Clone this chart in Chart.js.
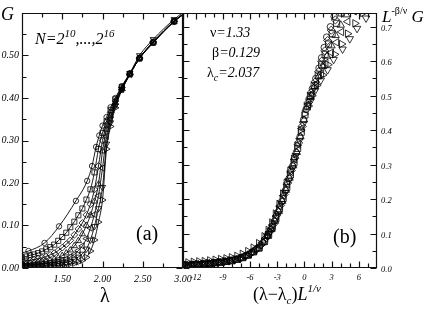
<!DOCTYPE html>
<html>
<head>
<meta charset="utf-8">
<script src="https://cdn.jsdelivr.net/npm/chart.js@4.4.0/dist/chart.umd.min.js"></script>
<style>
body { margin: 0; background: #fff; }
#wrap { position: relative; width: 425px; height: 311px; overflow: hidden; }
canvas { position: absolute; left: 0; top: 0; }
.t { position: absolute; white-space: nowrap; font-family: 'Liberation Serif', 'DejaVu Serif', serif; line-height: 1; color: #000; }
.t i { font-style: italic; }
.sup, .sub { position: relative; }
</style>
</head>
<body>
<div id="wrap">
  <canvas id="left" width="425" height="311"></canvas>
  <canvas id="right" width="425" height="311"></canvas>

  <div class="t" style="left:1px;top:5px;font-size:18px"><i>G</i></div>
  <div class="t" style="left:35px;top:31px;font-size:16px"><i>N=2<span class="sup" style="font-size:11px;top:-7px">10</span>,...,2<span class="sup" style="font-size:11px;top:-7px">16</span></i></div>
  <div class="t" style="left:136px;top:223px;font-size:20px">(a)</div>
  <div class="t" style="left:100px;top:285px;font-size:20px">λ</div>

  <div class="t" style="left:210px;top:26px;font-size:14px">ν<i>=1.33</i></div>
  <div class="t" style="left:212px;top:46px;font-size:14px">β<i>=0.129</i></div>
  <div class="t" style="left:207px;top:66px;font-size:14px">λ<i class="sub" style="font-size:10px;top:4px">c</i><i>=2.037</i></div>
  <div class="t" style="left:333px;top:226px;font-size:20px">(b)</div>
  <div class="t" style="left:253px;top:285px;font-size:18px">(λ−λ<i class="sub" style="font-size:11px;top:4px">c</i>)<i>L</i><i class="sup" style="font-size:11px;top:-8px">1/ν</i></div>
  <div class="t" style="left:382px;top:8px;font-size:17px"><i>L</i><span class="sup" style="font-size:10px;top:-8px">-β/ν</span> <i>G</i></div>
</div>

<script>
// left panel: G(lambda), one curve per system size N = 2^10 ... 2^16
const lamSparse = [0.9, 1.08, 1.28, 1.46, 1.67, 1.81, 1.87, 1.92, 1.96, 2.00, 2.05, 2.10, 2.16, 2.24, 2.34, 2.46, 2.63, 2.89, 3.1];
const lamDense = [0.9, 1.0, 1.05, 1.1, 1.15, 1.2, 1.25, 1.3, 1.35, 1.4, 1.45, 1.5, 1.55, 1.6, 1.65, 1.7, 1.75, 1.8, 1.85, 1.9, 1.95, 2.0, 2.05, 2.1, 2.16, 2.24, 2.34, 2.46, 2.63, 2.89, 3.1];
const g10 = [0.031, 0.040, 0.059, 0.098, 0.158, 0.205, 0.240, 0.285, 0.312, 0.335, 0.355, 0.378, 0.400, 0.428, 0.458, 0.493, 0.530, 0.580, 0.610];
const g11 = [0.021, 0.025, 0.027, 0.030, 0.032, 0.035, 0.039, 0.044, 0.049, 0.055, 0.064, 0.073, 0.083, 0.096, 0.109, 0.124, 0.140, 0.161, 0.185, 0.225, 0.280, 0.318, 0.345, 0.372, 0.397, 0.426, 0.457, 0.493, 0.530, 0.580, 0.610];
const g12 = [0.012, 0.015, 0.017, 0.018, 0.020, 0.022, 0.024, 0.027, 0.031, 0.035, 0.041, 0.048, 0.056, 0.065, 0.078, 0.092, 0.106, 0.125, 0.150, 0.185, 0.240, 0.300, 0.337, 0.366, 0.393, 0.424, 0.457, 0.494, 0.531, 0.580, 0.610];
const g13 = [0.008, 0.010, 0.010, 0.011, 0.012, 0.013, 0.015, 0.016, 0.018, 0.021, 0.024, 0.029, 0.035, 0.042, 0.052, 0.064, 0.080, 0.100, 0.124, 0.157, 0.197, 0.275, 0.326, 0.358, 0.389, 0.422, 0.456, 0.494, 0.531, 0.580, 0.610];
const g14 = [0.005, 0.007, 0.007, 0.007, 0.008, 0.008, 0.009, 0.010, 0.012, 0.013, 0.015, 0.018, 0.021, 0.026, 0.032, 0.041, 0.052, 0.069, 0.094, 0.126, 0.170, 0.235, 0.310, 0.350, 0.385, 0.420, 0.455, 0.494, 0.532, 0.581, 0.611];
const g15 = [0.003, 0.005, 0.005, 0.005, 0.006, 0.006, 0.007, 0.007, 0.008, 0.009, 0.010, 0.012, 0.013, 0.016, 0.020, 0.026, 0.033, 0.045, 0.066, 0.098, 0.140, 0.190, 0.292, 0.342, 0.382, 0.421, 0.458, 0.500, 0.538, 0.585, 0.615];
const g16 = [0.002, 0.003, 0.003, 0.003, 0.004, 0.004, 0.004, 0.005, 0.005, 0.006, 0.006, 0.007, 0.008, 0.010, 0.011, 0.014, 0.018, 0.025, 0.040, 0.066, 0.108, 0.160, 0.280, 0.333, 0.377, 0.418, 0.455, 0.494, 0.532, 0.581, 0.610];

// right panel: (lambda - lambda_c) L^(1/nu)  vs  L^(-beta/nu) G
const sx10 = [-13.6, -13.0, -12.4, -11.8, -11.2, -10.6, -10.0, -9.4, -8.8, -8.2, -7.6, -7.0, -6.4, -5.8, -5.2, -4.6,
    -4.1, -3.7, -3.3, -2.9, -2.5, -2.1, -1.7, -1.3, -0.9, -0.5, -0.1,
    0.17, 0.50, 0.87, 1.25, 1.60, 1.89, 2.18, 2.45, 2.86, 3.27, 3.74];
const sy10 = [0.007, 0.008, 0.009, 0.010, 0.012, 0.013, 0.015, 0.017, 0.019, 0.021, 0.025, 0.029, 0.036, 0.045, 0.056, 0.073,
    0.093, 0.112, 0.136, 0.163, 0.193, 0.225, 0.260, 0.296, 0.335, 0.380, 0.430,
    0.46, 0.49, 0.52, 0.55, 0.58, 0.61, 0.64, 0.67, 0.70, 0.73, 0.76];
const sx11 = [-13.4, -12.8, -12.2, -11.6, -11.0, -10.4, -9.8, -9.2, -8.6, -8.0, -7.4, -6.8, -6.2, -5.6, -5.0, -4.4,
    -3.95, -3.55, -3.15, -2.75, -2.35, -1.95, -1.55, -1.15, -0.75, -0.35, 0.05,
    0.31, 0.66, 1.07, 1.52, 1.89, 2.28, 2.66, 3.05, 3.55, 4.06];
const sy11 = [0.006, 0.008, 0.009, 0.010, 0.011, 0.013, 0.015, 0.016, 0.019, 0.021, 0.025, 0.030, 0.037, 0.047, 0.058, 0.078,
    0.097, 0.118, 0.143, 0.171, 0.202, 0.234, 0.270, 0.306, 0.347, 0.394, 0.444,
    0.47, 0.50, 0.53, 0.56, 0.59, 0.62, 0.65, 0.68, 0.71, 0.74];
const sx12 = [-13.2, -12.6, -12.0, -11.4, -10.8, -10.2, -9.6, -9.0, -8.4, -7.8, -7.2, -6.6, -6.0, -5.4, -4.8, -4.2,
    -3.85, -3.45, -3.05, -2.65, -2.25, -1.85, -1.45, -1.05, -0.65, -0.25,
    0.41, 0.76, 1.16, 1.57, 1.89, 2.24, 2.55, 2.95, 3.41, 3.89];
const sy12 = [0.008, 0.009, 0.010, 0.011, 0.013, 0.014, 0.016, 0.018, 0.021, 0.024, 0.028, 0.034, 0.041, 0.053, 0.067, 0.088,
    0.105, 0.126, 0.153, 0.182, 0.213, 0.247, 0.283, 0.319, 0.363, 0.411,
    0.48, 0.51, 0.54, 0.57, 0.60, 0.63, 0.66, 0.69, 0.72, 0.75];
const sx13 = [-13.5, -12.9, -12.3, -11.7, -11.1, -10.5, -9.9, -9.3, -8.7, -8.1, -7.5, -6.9, -6.3, -5.7, -5.1, -4.5,
    -4.05, -3.65, -3.25, -2.85, -2.45, -2.05, -1.65, -1.25, -0.85, -0.45, -0.05,
    0.28, 0.64, 1.08, 1.56, 2.01, 2.48, 2.98, 3.43, 4.0, 4.6];
const sy13 = [0.006, 0.007, 0.009, 0.010, 0.011, 0.013, 0.014, 0.016, 0.018, 0.021, 0.024, 0.029, 0.036, 0.045, 0.056, 0.074,
    0.092, 0.112, 0.136, 0.164, 0.194, 0.226, 0.261, 0.297, 0.336, 0.381, 0.430,
    0.465, 0.495, 0.525, 0.555, 0.585, 0.615, 0.645, 0.675, 0.705, 0.735];
const sx14 = [-13.3, -12.7, -12.1, -11.5, -10.9, -10.3, -9.7, -9.1, -8.5, -7.9, -7.3, -6.7, -6.1, -5.5, -4.9, -4.3,
    -3.9, -3.5, -3.1, -2.7, -2.3, -1.9, -1.5, -1.1, -0.7, -0.3,
    0.44, 0.83, 1.31, 1.88, 2.35, 2.96, 3.53, 4.08, 4.77, 5.48];
const sy14 = [0.008, 0.009, 0.011, 0.012, 0.013, 0.015, 0.017, 0.019, 0.021, 0.024, 0.028, 0.034, 0.041, 0.052, 0.065, 0.086,
    0.103, 0.124, 0.150, 0.179, 0.210, 0.243, 0.279, 0.315, 0.358, 0.405,
    0.475, 0.505, 0.535, 0.565, 0.595, 0.625, 0.655, 0.685, 0.715, 0.745];
const sx15 = [-13.1, -12.5, -11.9, -11.3, -10.7, -10.1, -9.5, -8.9, -8.3, -7.7, -7.1, -6.5, -5.9, -5.3, -4.7, -4.1,
    -3.75, -3.35, -2.95, -2.55, -2.15, -1.75, -1.35, -0.95, -0.55, -0.15,
    0.68, 1.17, 1.80, 2.55, 3.21, 4.20, 5.00, 5.80, 6.79, 7.80];
const sy15 = [0.008, 0.009, 0.010, 0.011, 0.013, 0.015, 0.016, 0.018, 0.021, 0.024, 0.028, 0.035, 0.043, 0.054, 0.069, 0.092,
    0.108, 0.131, 0.157, 0.187, 0.219, 0.253, 0.289, 0.326, 0.370, 0.418,
    0.485, 0.515, 0.545, 0.575, 0.605, 0.635, 0.665, 0.695, 0.725, 0.755];
const sx16 = [-13.45, -12.85, -12.25, -11.65, -11.05, -10.45, -9.85, -9.25, -8.65, -8.05, -7.45, -6.85, -6.25, -5.65, -5.05, -4.45,
    -4.0, -3.6, -3.2, -2.8, -2.4, -2.0, -1.6, -1.2, -0.8, -0.4, 0.0,
    0.43, 0.83, 1.36, 2.01, 2.59, 3.33, 4.10, 4.76, 5.57, 6.43];
const sy16 = [0.015, 0.016, 0.018, 0.019, 0.020, 0.022, 0.024, 0.026, 0.028, 0.031, 0.035, 0.041, 0.049, 0.059, 0.072, 0.092,
    0.110, 0.132, 0.158, 0.186, 0.216, 0.247, 0.282, 0.317, 0.356, 0.400, 0.447,
    0.47, 0.50, 0.53, 0.56, 0.59, 0.62, 0.65, 0.68, 0.71, 0.74];

// axis ticks
const leftXTicks = [1.5, 2.0, 2.5, 3.0];
const leftXMinor = [1.25, 1.75, 2.25, 2.75];
const leftYTicks = [0, 0.1, 0.2, 0.3, 0.4, 0.5];
const leftYMinor = [0.05, 0.15, 0.25, 0.35, 0.45, 0.55];
const rightXTicks = [-12, -9, -6, -3, 0, 3, 6];
const rightXMinor = [-13, -11, -10, -8, -7, -5, -4, -2, -1, 1, 2, 4, 5, 7];
const rightYTicks = [0, 0.1, 0.2, 0.3, 0.4, 0.5, 0.6, 0.7];
const rightYMinor = [0.05, 0.15, 0.25, 0.35, 0.45, 0.55, 0.65];

const markers = [
    { style: 'circle', rot: 0, r: 2.7 },
    { style: 'rect', rot: 0, r: 3.6 },
    { style: 'rectRot', rot: 0, r: 3.4 },
    { style: 'triangle', rot: 0, r: 3.6 },
    { style: 'triangle', rot: 270, r: 3.6 },
    { style: 'triangle', rot: 180, r: 3.6 },
    { style: 'triangle', rot: 90, r: 3.6 }
];

const serif = "'Liberation Serif', 'DejaVu Serif', serif";

// frame + inward ticks on all four sides
const frameTicks = {
    id: 'frameTicks',
    afterDraw(chart, args, o) {
        const { ctx, chartArea: a } = chart;
        const xs = chart.scales.x, ys = chart.scales.y;
        const L = a.left + 0.5, R = a.right - 0.5, T = a.top + 0.5, B = a.bottom - 0.5;
        ctx.save();
        ctx.strokeStyle = '#111';
        ctx.lineWidth = 1.2;
        ctx.beginPath();
        ctx.rect(L, T, R - L, B - T);
        const xt = (vals, len) => vals.forEach(v => {
            const p = Math.round(xs.getPixelForValue(v)) + 0.5;
            ctx.moveTo(p, B); ctx.lineTo(p, B - len);
            ctx.moveTo(p, T); ctx.lineTo(p, T + len);
        });
        const yt = (vals, len) => vals.forEach(v => {
            const p = Math.round(ys.getPixelForValue(v)) + 0.5;
            ctx.moveTo(L, p); ctx.lineTo(L + len, p);
            ctx.moveTo(R, p); ctx.lineTo(R - len, p);
        });
        xt(o.xMajor, 6); xt(o.xMinor, 4);
        yt(o.yMajor, 6); yt(o.yMinor, 4);
        ctx.stroke();
        ctx.restore();
    }
};

function makeSet(points, i, line, scale) {
    return {
        data: points,
        showLine: line,
        borderColor: '#000',
        borderWidth: 0.9,
        cubicInterpolationMode: 'monotone',
        pointStyle: markers[i].style,
        pointRotation: markers[i].rot,
        pointRadius: markers[i].r * scale,
        pointBorderColor: '#000',
        pointBackgroundColor: 'rgba(0,0,0,0)',
        pointBorderWidth: 0.8,
        clip: 0
    };
}

const leftCurves = [[lamSparse, g10], [lamDense, g11], [lamDense, g12], [lamDense, g13], [lamDense, g14], [lamDense, g15], [lamDense, g16]];
const rightX = [sx10, sx11, sx12, sx13, sx14, sx15, sx16];
const rightY = [sy10, sy11, sy12, sy13, sy14, sy15, sy16];

function axisX(min, max, ticks, size, fmt) {
    return {
        type: 'linear', min: min, max: max,
        afterFit: s => { s.height = 43; },
        afterBuildTicks: s => { s.ticks = ticks.map(v => ({ value: v })); },
        grid: { display: false, drawTicks: false },
        border: { display: false },
        ticks: { autoSkip: false, maxRotation: 0, padding: 5, color: '#000',
            font: { family: serif, size: size, style: 'italic' }, callback: fmt }
    };
}

new Chart(document.getElementById('left'), {
    type: 'scatter',
    data: {
        datasets: leftCurves.map((c, i) => makeSet(c[0].map((l, j) => ({ x: l, y: c[1][j] })), i, true, 1))
    },
    options: {
        responsive: false,
        animation: false,
        layout: { padding: { left: 0, right: 242, top: 13, bottom: 0 } },
        plugins: {
            legend: { display: false },
            tooltip: { enabled: false },
            frameTicks: { xMajor: leftXTicks, xMinor: leftXMinor, yMajor: leftYTicks, yMinor: leftYMinor }
        },
        scales: {
            x: axisX(1, 3, leftXTicks, 10, v => v.toFixed(2)),
            y: {
                type: 'linear', min: 0, max: 0.6,
                afterFit: s => { s.width = 22; },
                afterBuildTicks: s => { s.ticks = leftYTicks.map(v => ({ value: v })); },
                grid: { display: false, drawTicks: false },
                border: { display: false },
                ticks: { autoSkip: false, padding: 3, color: '#000',
                    font: { family: serif, size: 10, style: 'italic' },
                    callback: v => v.toFixed(2) }
            }
        }
    },
    plugins: [frameTicks]
});

new Chart(document.getElementById('right'), {
    type: 'scatter',
    data: {
        datasets: rightX.map((xs, i) => makeSet(xs.map((x, j) => ({ x: x, y: rightY[i][j] })), i, false, 1.2))
    },
    options: {
        responsive: false,
        animation: false,
        layout: { padding: { left: 183, right: 0, top: 13, bottom: 0 } },
        plugins: {
            legend: { display: false },
            tooltip: { enabled: false },
            frameTicks: { xMajor: rightXTicks, xMinor: rightXMinor, yMajor: rightYTicks, yMinor: rightYMinor }
        },
        scales: {
            x: axisX(-13.4, 8, rightXTicks, 8.5, v => String(v)),
            y: {
                type: 'linear', position: 'right', min: 0, max: 0.74,
                afterFit: s => { s.width = 48; },
                afterBuildTicks: s => { s.ticks = rightYTicks.map(v => ({ value: v })); },
                grid: { display: false, drawTicks: false },
                border: { display: false },
                ticks: { autoSkip: false, padding: 4, labelOffset: 2, color: '#000',
                    font: { family: serif, size: 8.5, style: 'italic' },
                    callback: v => v.toFixed(1) }
            }
        }
    },
    plugins: [frameTicks]
});
</script>
</body>
</html>
